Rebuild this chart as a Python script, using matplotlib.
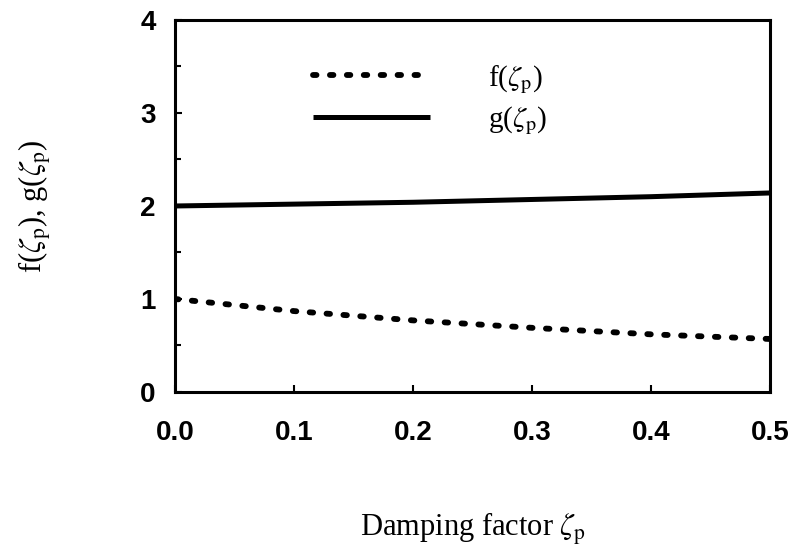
import numpy as np
import matplotlib.pyplot as plt

# damping factor and the two response functions
zeta = [0.0, 0.1, 0.2, 0.3, 0.4, 0.5]
f_vals = [1.0, 0.87, 0.77, 0.69, 0.62, 0.57]
g_vals = [2.0, 2.02, 2.04, 2.07, 2.10, 2.14]

x_ticks = [0.0, 0.1, 0.2, 0.3, 0.4, 0.5]
y_ticks = [0, 1, 2, 3, 4]

plt.rcParams['mathtext.fontset'] = 'stix'

fig = plt.figure(figsize=(7.94, 5.49), dpi=100)
ax = fig.add_axes([0.2204, 0.286, 0.7494, 0.6776])

ax.plot(zeta, f_vals, color='black', linewidth=4.2, linestyle=(0, (0.6, 2.3)),
        dash_capstyle='round', label=r'f($\zeta_\mathrm{p}$)')
ax.plot(zeta, g_vals, color='black', linewidth=3.6, solid_capstyle='butt',
        label=r'g($\zeta_\mathrm{p}$)')

ax.set_xlim(0, 0.5)
ax.set_ylim(0, 4)
ax.set_xticks(x_ticks)
ax.set_xticklabels(['%.1f' % v for v in x_ticks])
ax.set_yticks(y_ticks)
ax.set_yticks(np.arange(0.5, 4, 1.0), minor=True)

for s in ax.spines.values():
    s.set_linewidth(2.2)

ax.tick_params(axis='both', which='major', direction='in', length=5, width=1.5,
               labelsize=20)
ax.tick_params(axis='y', which='minor', direction='in', length=4, width=1.5)
ax.tick_params(axis='x', pad=20)
ax.tick_params(axis='y', pad=14)
for lab in ax.get_xticklabels() + ax.get_yticklabels():
    lab.set_fontweight('bold')
    lab.set_fontfamily('Liberation Sans')

ax.set_xlabel(r'Damping factor $\zeta_\mathrm{p}$', fontsize=22,
              fontfamily='Liberation Serif')
ax.xaxis.set_label_coords(0.5, -0.32)
ax.set_ylabel(r'f($\zeta_\mathrm{p}$), g($\zeta_\mathrm{p}$)', fontsize=22,
              fontfamily='Liberation Serif')
ax.yaxis.set_label_coords(-0.205, 0.5)

ax.legend(loc='center left', bbox_to_anchor=(0.232, 0.785), frameon=False,
          prop={'family': 'Liberation Serif', 'size': 21},
          handlelength=4.0, handletextpad=2.0, labelspacing=0.3,
          borderpad=0, borderaxespad=0)

fig.savefig('out.png', dpi=100)
